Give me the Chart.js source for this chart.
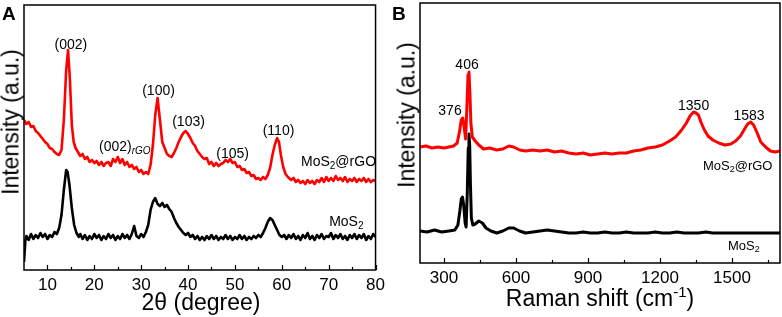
<!DOCTYPE html>
<html lang="en">
<head>
    <meta charset="UTF-8">
    <title>XRD and Raman of MoS2 and MoS2@rGO</title>
    <style>
        body {
            margin: 0;
            background: #fff;
            font-family: "Liberation Sans", Arial, sans-serif;
        }
        #wrap {
            position: relative;
            width: 782px;
            height: 317px;
        }
        canvas {
            position: absolute;
            top: 0;
        }
        .tag {
            position: absolute;
            font-weight: bold;
            font-size: 19px;
            line-height: 1;
        }
        .ytitle, .xtitle {
            position: absolute;
            font-size: 23px;
            line-height: 1;
            white-space: nowrap;
        }
        .ytitle {
            transform: translate(-50%, -50%) rotate(-90deg);
        }
        .xtitle {
            transform: translate(-50%, -50%);
        }
        .xtitle sup {
            font-size: 15px;
            vertical-align: 9px;
            line-height: 0;
        }
    </style>
    <script src="https://cdn.jsdelivr.net/npm/chart.js"></script>
</head>
<body>
<div id="wrap">
    <canvas id="xrd" width="390" height="317" style="left:0"></canvas>
    <canvas id="raman" width="392" height="317" style="left:390px"></canvas>
    <div class="tag" style="left:2px;top:4px">A</div>
    <div class="tag" style="left:392px;top:4px">B</div>
    <div class="ytitle" style="left:11px;top:122px">Intensity (a.u.)</div>
    <div class="ytitle" style="left:407px;top:115px">Intensity (a.u.)</div>
    <div class="xtitle" style="left:201px;top:302px">2θ (degree)</div>
    <div class="xtitle" style="left:600px;top:298px">Raman shift (cm<sup>-1</sup>)</div>
</div>
<script>
    // ---- panel A: XRD ----
    const xrdTicks = [10, 20, 30, 40, 50, 60, 70, 80];
    const xrdMinor = [15, 25, 35, 45, 55, 65, 75];

    const rgoTheta = [5, 5.5, 6, 6.5, 7, 7.5, 8, 8.5, 9, 9.5, 10, 10.5, 11, 11.5, 12, 12.5, 13, 13.5, 14, 14.4, 14.8, 15.2, 15.6,
        16, 16.5, 17, 17.5, 18, 18.5, 19, 19.5, 20, 20.5, 21, 21.5, 22, 22.5, 23, 23.5, 24, 24.5, 25, 25.5, 26, 26.5, 27, 27.5,
        28, 28.5, 29, 29.5, 30, 30.5, 31, 31.5, 32, 32.5, 33, 33.5, 34, 34.5, 35, 35.5, 36, 36.5, 37, 37.5, 38, 38.5, 39, 39.5,
        40, 40.5, 41, 41.5, 42, 42.5, 43, 43.5, 44, 44.5, 45, 45.5, 46, 46.5, 47, 47.5, 48, 48.5, 49, 49.5, 50, 50.5, 51, 51.5,
        52, 52.5, 53, 53.5, 54, 54.5, 55, 55.5, 56, 56.5, 57, 57.5, 58, 58.5, 59, 59.4, 59.8, 60.3, 60.8, 61.3, 62, 62.5, 63,
        63.5, 64, 64.5, 65, 65.5, 66, 66.5, 67, 67.5, 68, 68.5, 69, 69.5, 70, 70.5, 71, 71.5, 72, 72.5, 73, 73.5, 74, 74.5, 75,
        75.5, 76, 76.5, 77, 77.5, 78, 78.5, 79, 79.5, 80];
    const rgoCounts = [150, 146, 148, 143, 144, 139, 137, 134, 131, 128, 126, 122, 121, 118, 116, 115, 120, 150, 200, 220, 190, 145, 128,
        122, 118, 114, 116, 111, 113, 108, 110, 107, 109, 105, 108, 104, 107, 108, 104, 111, 108, 113, 107, 111, 105, 108, 103,
        105, 101, 103, 98, 100, 96, 98, 96, 105, 125, 155, 172, 150, 128, 122, 116, 114, 113, 117, 122, 128, 133, 137, 139,
        136, 132, 127, 124, 119, 116, 113, 111, 112, 106, 108, 104, 107, 104, 106, 107, 110, 108, 111, 107, 108, 103, 104, 100,
        101, 97, 98, 94, 95, 91, 92, 90, 93, 91, 95, 102, 115, 125, 132, 128, 115, 103, 96, 93, 90, 92, 88,
        90, 87, 89, 86, 90, 87, 89, 86, 90, 88, 92, 88, 93, 89, 92, 89, 94, 90, 92, 89, 93, 88, 91, 89,
        92, 88, 91, 89, 92, 88, 91, 88, 90, 89];

    const mosTheta = [5, 5.3, 5.5, 6, 6.5, 7, 7.5, 8, 8.5, 9, 9.5, 10, 10.5, 11, 11.5, 12, 12.5, 13, 13.5, 14, 14.3, 14.7, 15.2, 15.7,
        16.2, 16.7, 17, 17.5, 18, 18.5, 19, 19.5, 20, 20.5, 21, 21.5, 22, 22.5, 23, 23.5, 24, 24.5, 25, 25.5, 26, 26.5, 27, 27.5,
        28, 28.5, 29, 29.5, 30, 30.5, 31, 31.5, 32, 32.5, 33, 33.5, 34, 34.5, 35, 35.5, 36, 36.5, 37, 37.5, 38, 38.5, 39, 39.5,
        40, 40.5, 41, 41.5, 42, 42.5, 43, 43.5, 44, 44.5, 45, 45.5, 46, 46.5, 47, 47.5, 48, 48.5, 49, 49.5, 50, 50.5, 51, 51.5,
        52, 52.5, 53, 53.5, 54, 54.5, 55, 55.5, 56, 56.5, 57, 57.5, 58, 58.5, 59, 59.5, 60, 60.5, 61, 61.5, 62, 62.5, 63, 63.5,
        64, 64.5, 65, 65.5, 66, 66.5, 67, 67.5, 68, 68.5, 69, 69.5, 70, 70.5, 71, 71.5, 72, 72.5, 73, 73.5, 74, 74.5, 75, 75.5,
        76, 76.5, 77, 77.5, 78, 78.5, 79, 79.5, 80];
    const mosCounts = [8, 30, 34, 30, 36, 31, 35, 32, 37, 33, 36, 31, 35, 33, 38, 36, 42, 55, 80, 100, 98, 85, 62, 45,
        37, 33, 36, 31, 35, 30, 34, 31, 36, 32, 35, 30, 34, 31, 36, 32, 35, 30, 34, 31, 36, 32, 35, 31,
        36, 44, 34, 32, 36, 33, 38, 45, 60, 68, 72, 66, 64, 67, 63, 65, 61, 58, 52, 47, 43, 40, 37, 35,
        37, 33, 35, 31, 34, 30, 33, 30, 34, 31, 35, 31, 34, 30, 33, 31, 35, 31, 34, 30, 33, 31, 35, 31,
        34, 30, 33, 31, 34, 32, 35, 33, 37, 42, 48, 52, 50, 45, 40, 35, 33, 35, 31, 35, 32, 36, 31, 34,
        30, 35, 32, 37, 31, 34, 30, 35, 32, 36, 31, 34, 33, 37, 31, 35, 32, 36, 31, 34, 30, 35, 32, 36,
        31, 35, 32, 36, 30, 34, 31, 36, 33];

    const xrdLabels = [
        {x: 15, y: 225, parts: [['(002)']]},
        {x: 21, y: 123, align: 'left', parts: [['(002)'], ['rGO', 'sub']]},
        {x: 33.7, y: 179, parts: [['(100)']]},
        {x: 40.1, y: 148, parts: [['(103)']]},
        {x: 49.5, y: 116, parts: [['(105)']]},
        {x: 59.3, y: 139, parts: [['(110)']]},
        {x: 64.1, y: 108, align: 'left', parts: [['MoS'], ['2', 'sub'], ['@rGO']]},
        {x: 70.1, y: 48, align: 'left', parts: [['MoS'], ['2', 'sub']]}
    ];

    // ---- panel B: Raman ----
    const ramanTicks = [300, 600, 900, 1200, 1500];
    const ramanMinor = [450, 750, 1050, 1350, 1650];

    const rgoShift = [200, 225, 250, 275, 300, 320, 340, 355, 365, 372, 378, 384, 390, 396, 400, 404, 408, 412, 418, 430, 445,
        465, 490, 520, 545, 570, 590, 615, 640, 670, 700, 730, 760, 790, 820, 850, 880, 910, 940, 970, 1000, 1030, 1060, 1090,
        1120, 1150, 1180, 1210, 1240, 1265, 1290, 1310, 1325, 1340, 1350, 1360, 1372, 1385, 1400, 1420, 1445, 1470, 1495,
        1515, 1535, 1550, 1565, 1578, 1590, 1605, 1620, 1640, 1660, 1680, 1700];
    const rgoRaman = [116, 117, 115, 116, 115, 116, 117, 120, 132, 143, 145, 136, 124, 160, 188, 191, 170, 140, 126, 122, 118,
        114, 115, 113, 114, 117, 116, 113, 112, 113, 112, 113, 111, 112, 110, 109, 110, 108, 109, 110, 109, 110, 110, 112,
        113, 115, 116, 118, 122, 126, 133, 140, 147, 151, 150, 148, 140, 133, 127, 123, 120, 118, 119,
        122, 127, 133, 139, 141, 138, 130, 121, 116, 112, 111, 112];

    const mosShift = [200, 230, 260, 290, 320, 345, 358, 366, 372, 377, 382, 388, 392, 397, 401, 404, 407, 410, 414, 420, 430,
        445, 460, 475, 495, 520, 545, 570, 590, 615, 640, 670, 700, 730, 760, 790, 820, 850, 880, 910, 940, 970, 1000, 1030,
        1060, 1090, 1120, 1150, 1180, 1210, 1240, 1270, 1300, 1330, 1360, 1390, 1420, 1450, 1480, 1510, 1540, 1570, 1600,
        1630, 1660, 1700];
    const mosRaman = [32, 31, 33, 31, 32, 33, 38, 52, 64, 66, 58, 40, 36, 70, 115, 129, 118, 80, 45, 38, 39,
        42, 40, 35, 32, 30, 32, 35, 35, 32, 30, 31, 32, 33, 32, 31, 30, 30, 31, 30, 30, 31, 30, 30,
        31, 30, 30, 30, 31, 30, 30, 31, 30, 30, 30, 31, 30, 30, 30, 30, 30, 30, 30,
        30, 30, 30];

    const ramanLabels = [
        {x: 325, y: 152, parts: [['376']]},
        {x: 396, y: 198, parts: [['406']]},
        {x: 1340, y: 157, parts: [['1350']]},
        {x: 1571, y: 147, parts: [['1583']]},
        {x: 1379, y: 97, align: 'left', size: 13, parts: [['MoS'], ['2', 'sub'], ['@rGO']]},
        {x: 1483, y: 17, align: 'left', size: 13, parts: [['MoS'], ['2', 'sub']]}
    ];

    const FONT = '"Liberation Sans", Arial, sans-serif';

    function pairs(xs, ys) {
        return xs.map((x, i) => ({x: x, y: ys[i]}));
    }

    function partFont(p, size) {
        if (p[1] === 'sub') {
            return (p[0] === 'rGO' ? 'italic ' : '') + Math.round(size * 0.72) + 'px ' + FONT;
        }
        return size + 'px ' + FONT;
    }

    // draws text made of normal and subscript pieces
    function drawRich(ctx, label, px, py) {
        const size = label.size || 14;
        let total = 0;
        label.parts.forEach(p => {
            ctx.font = partFont(p, size);
            total += ctx.measureText(p[0]).width;
        });
        let x = label.align === 'left' ? px : px - total / 2;
        label.parts.forEach(p => {
            ctx.font = partFont(p, size);
            ctx.fillText(p[0], x, p[1] === 'sub' ? py + size * 0.3 : py);
            x += ctx.measureText(p[0]).width;
        });
    }

    // box frame, inward ticks and peak labels
    const frameAndTicks = {
        id: 'frameAndTicks',
        afterDraw(chart, args, opts) {
            const {ctx, chartArea: a, scales: {x, y}} = chart;
            ctx.save();
            ctx.strokeStyle = '#000';
            ctx.lineWidth = 1.5;
            ctx.strokeRect(a.left, a.top, a.right - a.left, a.bottom - a.top);
            ctx.lineWidth = 1.2;
            ctx.beginPath();
            x.ticks.forEach(t => {
                const p = Math.round(x.getPixelForValue(t.value)) + 0.5;
                ctx.moveTo(p, a.bottom);
                ctx.lineTo(p, a.bottom - 5);
            });
            opts.minor.forEach(v => {
                const p = Math.round(x.getPixelForValue(v)) + 0.5;
                ctx.moveTo(p, a.bottom);
                ctx.lineTo(p, a.bottom - 3);
            });
            ctx.stroke();
            ctx.fillStyle = '#000';
            ctx.textBaseline = 'middle';
            ctx.textAlign = 'left';
            opts.labels.forEach(l => drawRich(ctx, l, x.getPixelForValue(l.x), y.getPixelForValue(l.y)));
            ctx.restore();
        }
    };

    function makeChart(id, cfg) {
        return new Chart(document.getElementById(id), {
            type: 'line',
            data: {
                datasets: [
                    {data: cfg.red, borderColor: '#ff0000', borderWidth: cfg.width},
                    {data: cfg.black, borderColor: '#000000', borderWidth: cfg.width}
                ]
            },
            options: {
                responsive: false,
                animation: false,
                layout: {padding: cfg.padding},
                elements: {point: {radius: 0}, line: {tension: 0, borderJoinStyle: 'round'}},
                plugins: {
                    legend: {display: false},
                    tooltip: {enabled: false},
                    frameAndTicks: {minor: cfg.minor, labels: cfg.labels}
                },
                scales: {
                    x: {
                        type: 'linear',
                        min: cfg.min,
                        max: cfg.max,
                        afterBuildTicks: s => { s.ticks = cfg.ticks.map(v => ({value: v})); },
                        afterFit: s => { s.height = cfg.axisHeight; },
                        grid: {display: false, drawTicks: false},
                        border: {display: false},
                        ticks: {color: '#000', padding: 5, maxRotation: 0, autoSkip: false,
                            callback: v => String(v),
                            font: {family: FONT, size: 17}},
                        title: {display: false}
                    },
                    y: {display: false, min: 0, max: cfg.ymax}
                }
            },
            plugins: [frameAndTicks]
        });
    }

    makeChart('xrd', {
        red: pairs(rgoTheta, rgoCounts),
        black: pairs(mosTheta, mosCounts),
        width: 2.6,
        padding: {left: 24, right: 11, top: 5, bottom: 0},
        min: 5, max: 80, ticks: xrdTicks, minor: xrdMinor, labels: xrdLabels,
        axisHeight: 47, ymax: 265
    });

    makeChart('raman', {
        red: pairs(rgoShift, rgoRaman),
        black: pairs(mosShift, mosRaman),
        width: 3,
        padding: {left: 30, right: 2, top: 3, bottom: 0},
        min: 200, max: 1700, ticks: ramanTicks, minor: ramanMinor, labels: ramanLabels,
        axisHeight: 54, ymax: 260
    });
</script>
</body>
</html>
